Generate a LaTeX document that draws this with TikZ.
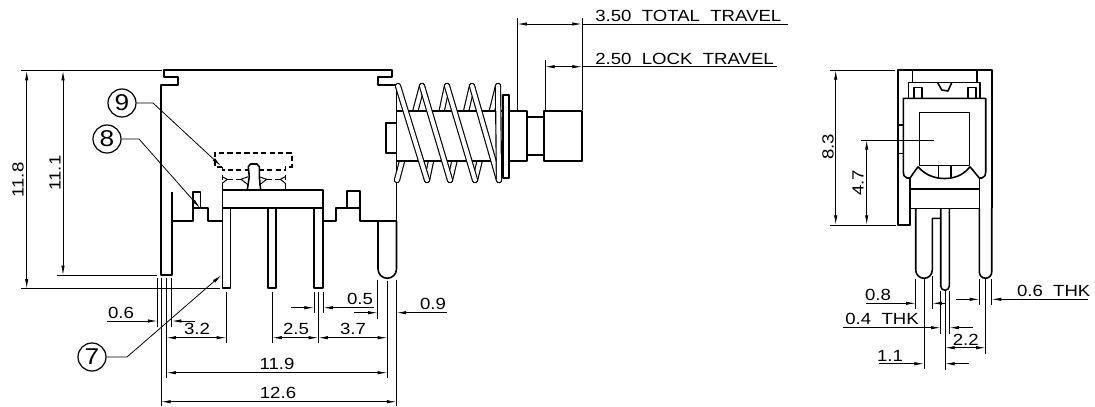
\documentclass[tikz,border=0pt]{standalone}
\usepackage{fontspec}
\setmainfont[FakeStretch=1.15]{Liberation Sans}
\usetikzlibrary{arrows.meta, shapes.geometric}

\tikzset{
    part/.style={line width=0.9pt, line join=round},
    hidden/.style={line width=0.6pt, dash pattern=on 3pt off 1.8pt},
    extline/.style={line width=0.45pt},
    dimline/.style={line width=0.45pt, {Latex[length=5.5pt,width=1.9pt]}-{Latex[length=5.5pt,width=1.9pt]}},
    dimhalf/.style={line width=0.45pt, -{Latex[length=5.5pt,width=1.9pt]}},
    dimtext/.style={inner sep=0pt, font=\fontsize{9.2}{10}\selectfont},
    callout/.style={draw, circle, line width=0.7pt, minimum size=0.56cm, inner sep=0pt, font=\fontsize{13}{14}\selectfont},
    coil/.style={line width=0.65pt, double, double distance=2.3pt, line cap=round}
}

\begin{document}
\begin{tikzpicture}[x=0.02cm, y=-0.02cm]
    \useasboundingbox (0,0) rectangle (1095,406);

    % Housing, side view
    \draw[part] (172,192) -- (172,275) -- (161,275) -- (161,85) -- (178,85) -- (178,77) -- (164,77) -- (164,70)
        -- (392,70) -- (392,77) -- (378,77) -- (378,85) -- (396.5,85) -- (396.5,221);
    \draw[line width=1.5pt] (172,192) -- (172,221);
    \draw[part] (172,221) -- (193,221) -- (193,192) -- (200.7,192) -- (200.7,208) -- (193,208);
    \draw[part] (200.7,208) -- (208,208) -- (208,221) -- (222.3,221);
    \draw[part] (322.8,221) -- (336,221) -- (336,208) -- (347,208) -- (347,191) -- (360,191) -- (360,221) -- (396.5,221);
    \draw[part] (347,208) -- (360,208);

    % Contact plate and pins
    \draw[part] (222.3,190) rectangle (322.8,208);
    \draw[line width=1.2pt] (268,208.3) -- (322.8,208.3);
    \foreach \a/\b in {222.3/230.7, 268/276, 314/322.8} {
        \draw[part] (\a,208) -- (\a,288) -- (\b,288) -- (\b,208);
    }
    \draw[part] (378,221) -- (378,269) arc (180:0:9.25) -- (396.5,221);

    % Slider, moved position
    \draw[hidden] (222.3,167) -- (215,167) -- (215,153) -- (292,153) -- (292,167) -- (285.3,167) -- (285.3,170) -- (259.3,170);
    \draw[hidden] (222.3,167) -- (222.3,170) -- (248.3,170);
    \draw[hidden] (222.3,175) -- (222.3,190);
    \draw[hidden] (285.3,175) -- (285.3,190);
    \draw[hidden] (227.3,179.3) -- (241,179.3);
    \draw[hidden] (266.7,179.3) -- (280.3,179.3);
    \draw[line width=0.55pt] (222.3,176.7) -- (227.3,179.3) -- (222.3,183.3);
    \draw[line width=0.55pt] (285.3,176.7) -- (280.3,179.3) -- (285.3,183.3);
    \draw[line width=0.55pt] (248.3,176.7) -- (241,179.3) -- (248.3,185);
    \draw[line width=0.55pt] (259.3,176.7) -- (266.7,179.3) -- (259.3,185);
    \draw[part] (247.3,190) -- (249.3,176.7) -- (248.3,166.7) -- (250.5,164) -- (257,164) -- (259.3,166.7) -- (259.3,176.7) -- (260.7,190);

    % Spring, far side
    \foreach \a/\b in {397/422, 427/447, 450/472, 475/498} {
        \draw[coil] (\a,180) -- (\b,86);
    }

    % Plunger
    \draw[part, fill=white] (396.5,111) rectangle (509,161);
    \draw[part] (396.5,123) -- (386,123) -- (386,153) -- (396.5,153);
    \draw[part] (509,111) -- (527,111) -- (527,161) -- (509,161);
    \draw[part] (527,117) -- (544,117);
    \draw[part] (527,155) -- (544,155);
    \draw[part] (544,111) rectangle (582,161);
    \draw[part, fill=white] (503,95) rectangle (509,178);

    % Spring, near side
    \foreach \a/\b in {398/427, 422/450, 447/475, 472/499} {
        \draw[coil] (\a,86) -- (\b,180);
    }
    \draw[coil] (499,180) -- (498,86);

    % Travel dimensions
    \foreach \x/\a/\b in {517.3/18/110, 545/60/110, 582/18/110} {
        \draw[extline] (\x,\a) -- (\x,\b);
    }
    \draw[dimline] (517.3,24) -- (582,24);
    \draw[dimline] (545,66.7) -- (582,66.7);
    \draw[extline] (582,24) -- (788,24);
    \draw[extline] (582,66.7) -- (776.7,66.7);
    \node[dimtext, anchor=west] (totaltravel) at (595,16) {3.50\ \ TOTAL\ \ TRAVEL};
    \node[dimtext, anchor=west] (locktravel) at (595,58.7) {2.50\ \ LOCK\ \ TRAVEL};

    % Height dimensions, side view
    \draw[extline] (21,70.7) -- (162,70.7);
    \draw[extline] (21,288.7) -- (220,288.7);
    \draw[extline] (57,275.3) -- (157,275.3);
    \draw[dimline] (26.7,70.7) -- (26.7,288.7);
    \draw[dimline] (63,70.7) -- (63,275.3);
    \node[dimtext, rotate=90] (heightall) at (18,180) {11.8};
    \node[dimtext, rotate=90] (heightbody) at (55,173) {11.1};

    % Extension lines below the side view
    \foreach \x/\a/\b in {157.5/278/327, 161/278/406, 166.3/278/378, 171.7/278/327,
        226.3/292/343, 272.3/292/343, 318.3/292/343, 314/292/313, 323.3/292/313,
        387.3/281/378, 377.7/280/319, 396.5/280/406} {
        \draw[extline] (\x,\a) -- (\x,\b);
    }

    % Width dimensions, side view
    \foreach \a/\b/\y in {166.3/226.3/337.7, 272.3/318.3/337.7, 318.3/387.3/337.7,
        166.3/387.3/372.7, 161/396.5/401.7} {
        \draw[dimline] (\a,\y) -- (\b,\y);
    }
    \foreach \a/\b/\y in {107/157.5/321, 195/171.7/321, 290.7/314/307.7, 374/323.3/307.7,
        354/377.7/312.7, 446.7/396.5/312.7} {
        \draw[dimhalf] (\a,\y) -- (\b,\y);
    }
    \foreach \x/\y/\t in {121/313/0.6, 197/329/3.2, 296/329/2.5, 353/329/3.7,
        360/299/0.5, 433/304/0.9, 277/364/11.9, 278/393/12.6} {
        \node[dimtext] at (\x,\y) {\t};
    }

    % Item callouts
    \node[callout] (nine) at (122,103) {9};
    \node[callout] (eight) at (107,139) {8};
    \node[callout] (seven) at (92,357) {7};
    \coordinate (ninetip) at (221,166);
    \coordinate (eighttip) at (200,208);
    \coordinate (seventip) at (221.5,275);
    \draw[dimhalf] (nine.east) -- (153,103) -- (ninetip);
    \draw[dimhalf] (eight.east) -- (139,139) -- (eighttip);
    \draw[dimhalf] (seven.east) -- (127,357) -- (seventip);

    % End view, frame and carrier
    \draw[part] (910,178) -- (910,225) -- (897.7,225) -- (897.7,70) -- (991.7,70) -- (991.7,208);
    \draw[part] (912.3,70) -- (912.3,82.7);
    \draw[part] (976.7,70) -- (976.7,82.7);
    \draw[part] (908.3,98) -- (908.3,82.7) -- (980,82.7) -- (980,98);
    \draw[part] (914,98) -- (914,87.3) -- (921.7,87.3) -- (921.7,98);
    \draw[part] (967.7,98) -- (967.7,87.3) -- (975.7,87.3) -- (975.7,98);
    \draw[part] (937.7,82.7) -- (941.7,90) -- (948,91) -- (951.7,82.7);
    \draw[part] (918,166.7) -- (910,178) -- (907,178) .. controls (904,177) and (903.3,175) .. (903.3,172)
        -- (903.3,98.3) -- (985.7,98.3) -- (985.7,172) .. controls (985.7,175) and (985,177) .. (982,178)
        -- (979.3,178) -- (970,166.7);
    \draw[part] (919.3,112.3) rectangle (969.3,165.7);
    \draw[part] (918,166.7) .. controls (926,176) and (936,178.5) .. (944.5,178.5) .. controls (953,178.5) and (963,176) .. (970,166.7);
    \draw[part] (938.3,166) -- (938.3,177.5);
    \draw[part] (950.7,166) -- (950.7,177.5);
    \draw[part] (979.3,178) -- (979.3,208);
    \draw[line width=1.1pt] (910,189.3) -- (979.3,189.3);
    \draw[part] (910,208.3) -- (979.3,208.3);
    \draw[part] (897.7,125) -- (903.3,125);
    \draw[part] (897.7,153.3) -- (903.3,153.3);

    % End view, pins
    \draw[part] (915.7,208) -- (915.7,270) arc (180:0:8.3) -- (932.3,218.3) -- (940.7,218.3);
    \draw[part] (940.7,208) -- (940.7,286) arc (180:0:4.3) -- (949.3,208);
    \draw[part] (979.3,208) -- (979.3,272) arc (180:0:6.2) -- (991.7,208);

    % Dimensions, end view
    \draw[extline] (830,70) -- (895,70);
    \draw[extline] (830,225) -- (896,225);
    \draw[extline] (860.7,140) -- (934,140);
    \draw[dimline] (835.7,70) -- (835.7,225);
    \draw[dimline] (866.7,140) -- (866.7,225);
    \node[dimtext, rotate=90] (heightend) at (828,147) {8.3};
    \node[dimtext, rotate=90] (heightactuator) at (858,183) {4.7};
    \foreach \x/\a/\b in {915.7/279/309.3, 932.3/276/309.3, 979.3/279/305, 991.7/279/305,
        940.7/291/334, 949.3/291/334, 945/291/370, 985.7/279/354, 924/279/369.3} {
        \draw[extline] (\x,\a) -- (\x,\b);
    }
    \draw[dimline] (945,347.7) -- (985.7,347.7);
    \foreach \a/\b/\y in {865.7/915.7/303.3, 945/932.3/303.3, 956/979.3/299.3, 1088/991.7/299.3,
        842.7/940.7/327.7, 972.7/949.3/327.7, 879.3/924/363.7, 969/945/363.7} {
        \draw[dimhalf] (\a,\y) -- (\b,\y);
    }
    \foreach \x/\y/\t in {878/295/0.8, 965.7/340/2.2, 890/355.7/1.1} {
        \node[dimtext] at (\x,\y) {\t};
    }
    \node[dimtext, anchor=west] (thickpin) at (1016.7,291) {0.6\ \ THK};
    \node[dimtext, anchor=west] (thickblade) at (845,319) {0.4\ \ THK};
\end{tikzpicture}
\end{document}
